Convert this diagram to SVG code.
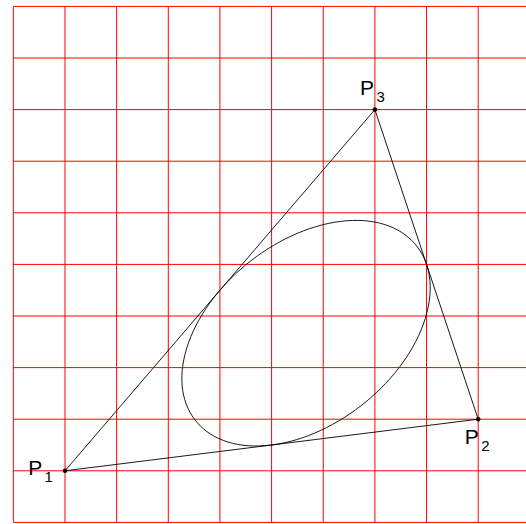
<svg xmlns="http://www.w3.org/2000/svg" width="526" height="524" viewBox="0 0 526 524">
<style>
.grid line{stroke:#ff0000;stroke-width:1}
.edge{stroke:#000;stroke-width:0.9;fill:none}
.dot{fill:#000}
.lbl{font-family:"Liberation Sans","DejaVu Sans",sans-serif;font-size:21px;fill:#000}
.sub{font-size:15px}
</style>
<rect width="526" height="524" fill="#fff"/>
<g class="grid" id="grid">
<line x1="13.35" y1="6.4" x2="13.35" y2="522.4"/>
<line x1="65" y1="6.4" x2="65" y2="522.4"/>
<line x1="116.65" y1="6.4" x2="116.65" y2="522.4"/>
<line x1="168.3" y1="6.4" x2="168.3" y2="522.4"/>
<line x1="219.95" y1="6.4" x2="219.95" y2="522.4"/>
<line x1="271.6" y1="6.4" x2="271.6" y2="522.4"/>
<line x1="323.25" y1="6.4" x2="323.25" y2="522.4"/>
<line x1="374.9" y1="6.4" x2="374.9" y2="522.4"/>
<line x1="426.55" y1="6.4" x2="426.55" y2="522.4"/>
<line x1="478.2" y1="6.4" x2="478.2" y2="522.4"/>
<line x1="13.35" y1="6.4" x2="530" y2="6.4"/>
<line x1="13.35" y1="58" x2="530" y2="58"/>
<line x1="13.35" y1="109.6" x2="530" y2="109.6"/>
<line x1="13.35" y1="161.2" x2="530" y2="161.2"/>
<line x1="13.35" y1="212.8" x2="530" y2="212.8"/>
<line x1="13.35" y1="264.4" x2="530" y2="264.4"/>
<line x1="13.35" y1="316" x2="530" y2="316"/>
<line x1="13.35" y1="367.6" x2="530" y2="367.6"/>
<line x1="13.35" y1="419.2" x2="530" y2="419.2"/>
<line x1="13.35" y1="470.8" x2="530" y2="470.8"/>
<line x1="13.35" y1="522.4" x2="530" y2="522.4"/>
</g>
<g id="connectors">
<line class="edge" x1="65" y1="470.8" x2="478.2" y2="419.2"/>
<line class="edge" x1="478.2" y1="419.2" x2="374.9" y2="109.6"/>
<line class="edge" x1="374.9" y1="109.6" x2="65" y2="470.8"/>
</g>
<path id="ellipse" class="edge" d="M340.46,221.4 C274.58,229.63 205.77,286.36 186.75,348.1 C167.74,409.85 205.72,453.23 271.6,445 C337.48,436.77 406.3,380.05 425.31,318.3 C444.33,256.56 406.34,213.17 340.46,221.4 Z"/>
<g id="P1">
<circle class="dot" cx="65" cy="470.8" r="2.3"/>
<text class="lbl"><tspan x="28.2" y="474.5">P</tspan><tspan class="sub" x="44.5" y="481.7">1</tspan></text>
</g>
<g id="P2">
<circle class="dot" cx="478.2" cy="419.2" r="2.3"/>
<text class="lbl"><tspan x="464.8" y="443.5">P</tspan><tspan class="sub" x="481.2" y="450.5">2</tspan></text>
</g>
<g id="P3">
<circle class="dot" cx="374.9" cy="109.6" r="2.3"/>
<text class="lbl"><tspan x="360" y="94.5">P</tspan><tspan class="sub" x="376.4" y="101.7">3</tspan></text>
</g>
</svg>
